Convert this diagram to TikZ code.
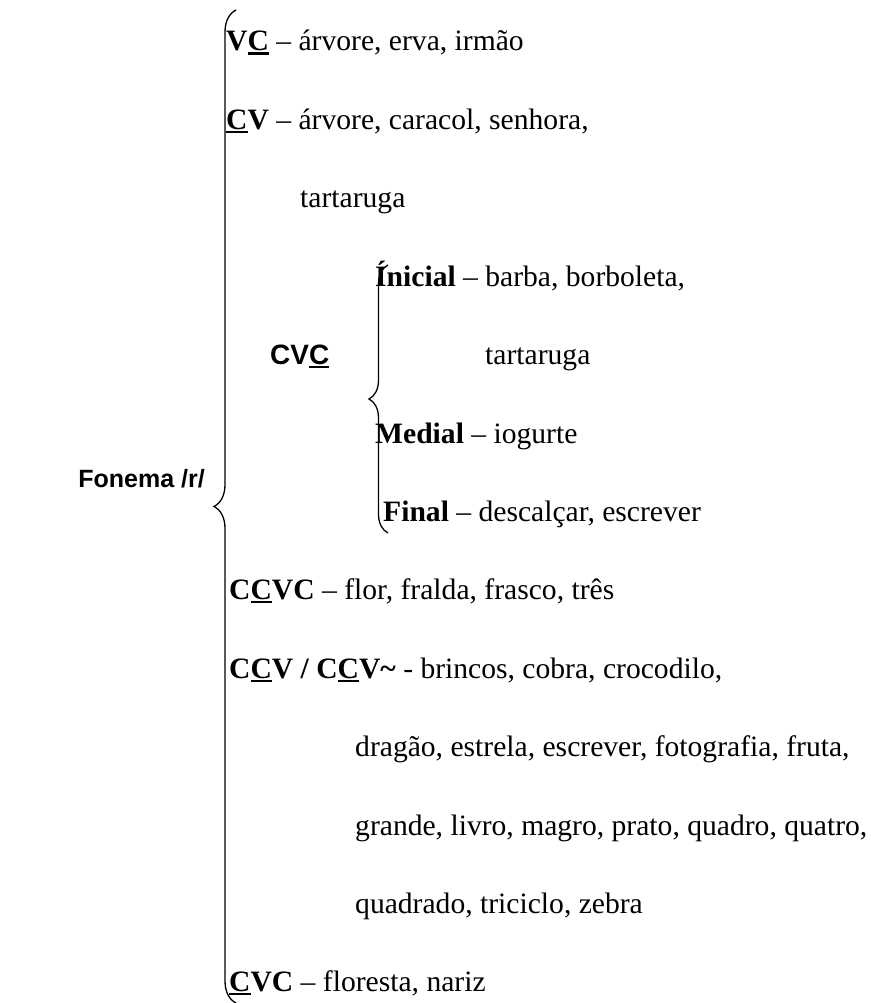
\documentclass[tikz,border=0pt]{standalone}
\usepackage{fontspec}
\setmainfont{Liberation Serif}
\setsansfont{Liberation Sans}
\usetikzlibrary{positioning,decorations.pathreplacing}
\newcommand\uc[1]{\setbox0\hbox{#1}\rlap{\rule[-3.6pt]{\wd0}{2.2pt}}\box0}
\tikzset
{
    item/.style       = {anchor=base west, inner sep=0pt, font=\fontsize{29.6}{36}\selectfont},
    head/.style       = {anchor=base west, inner sep=0pt, font=\fontsize{28}{34}\selectfont\sffamily\bfseries},
    bracebig/.style   = {decorate, decoration={brace, amplitude=22pt}, line width=1.3pt},
    bracesmall/.style = {decorate, decoration={brace, amplitude=19pt}, line width=1.3pt}
}
\begin{document}
\begin{tikzpicture}[x=1pt, y=-1pt]

	 \newcommand\LINEDY{78.4}
	 \newcommand\LINEY{51}

	 \useasboundingbox (0, 0) rectangle (870, 1003);

	 \node (fon)	[head, anchor=base east, font=\fontsize{25}{30}\selectfont\sffamily\bfseries] 	at (205, 487)     	{Fonema /r/};

	 \node (vc)	[item] 		at (226, {\LINEY+0*\LINEDY})     	{\textbf{V\uc{C}} – árvore, erva, irmão};
	 \node (cv)	[item] 		at (226, {\LINEY+1*\LINEDY})     	{\textbf{\uc{C}V} – árvore, caracol, senhora,};
	 \node (cvb)	[item] 		at (300, {\LINEY+2*\LINEDY})     	{tartaruga};

	 \node (cvc)	[head] 		at (270, {\LINEY+4*\LINEDY})     	{CV\uc{C}};
	 \node (ini)	[item] 		at (375, {\LINEY+3*\LINEDY})     	{\textbf{Ínicial} – barba, borboleta,};
	 \node (inib)	[item] 		at (485, {\LINEY+4*\LINEDY})     	{tartaruga};
	 \node (med)	[item] 		at (375, {\LINEY+5*\LINEDY})     	{\textbf{Medial} – iogurte};
	 \node (fin)	[item] 		at (383, {\LINEY+6*\LINEDY})     	{\textbf{Final} – descalçar, escrever};

	 \node (ccvc)	[item] 		at (229, {\LINEY+7*\LINEDY})     	{\textbf{C\uc{C}VC} – flor, fralda, frasco, três};
	 \node (ccv)	[item] 		at (229, {\LINEY+8*\LINEDY})     	{\textbf{C\uc{C}V / C\uc{C}V\textasciitilde} - brincos, cobra, crocodilo,};
	 \node (ccvb)	[item] 		at (355, {\LINEY+9*\LINEDY})     	{dragão, estrela, escrever, fotografia, fruta,};
	 \node (ccvc2)	[item] 		at (355, {\LINEY+10*\LINEDY})    	{grande, livro, magro, prato, quadro, quatro,};
	 \node (ccvd)	[item] 		at (355, {\LINEY+11*\LINEDY})    	{quadrado, triciclo, zebra};
	 \node (cvcl)	[item] 		at (229, {\LINEY+12*\LINEDY})    	{\textbf{\uc{C}VC} – floresta, nariz};

	 \coordinate (bbot) at (236, 1003);
	 \coordinate (btop) at (236, 10);
	 \coordinate (ibot) at (388, 533);
	 \coordinate (itop) at (388, 265);

	 \draw[bracebig]   (bbot) -- (btop);
	 \draw[bracesmall] (ibot) -- (itop);
\end{tikzpicture}
\end{document}
